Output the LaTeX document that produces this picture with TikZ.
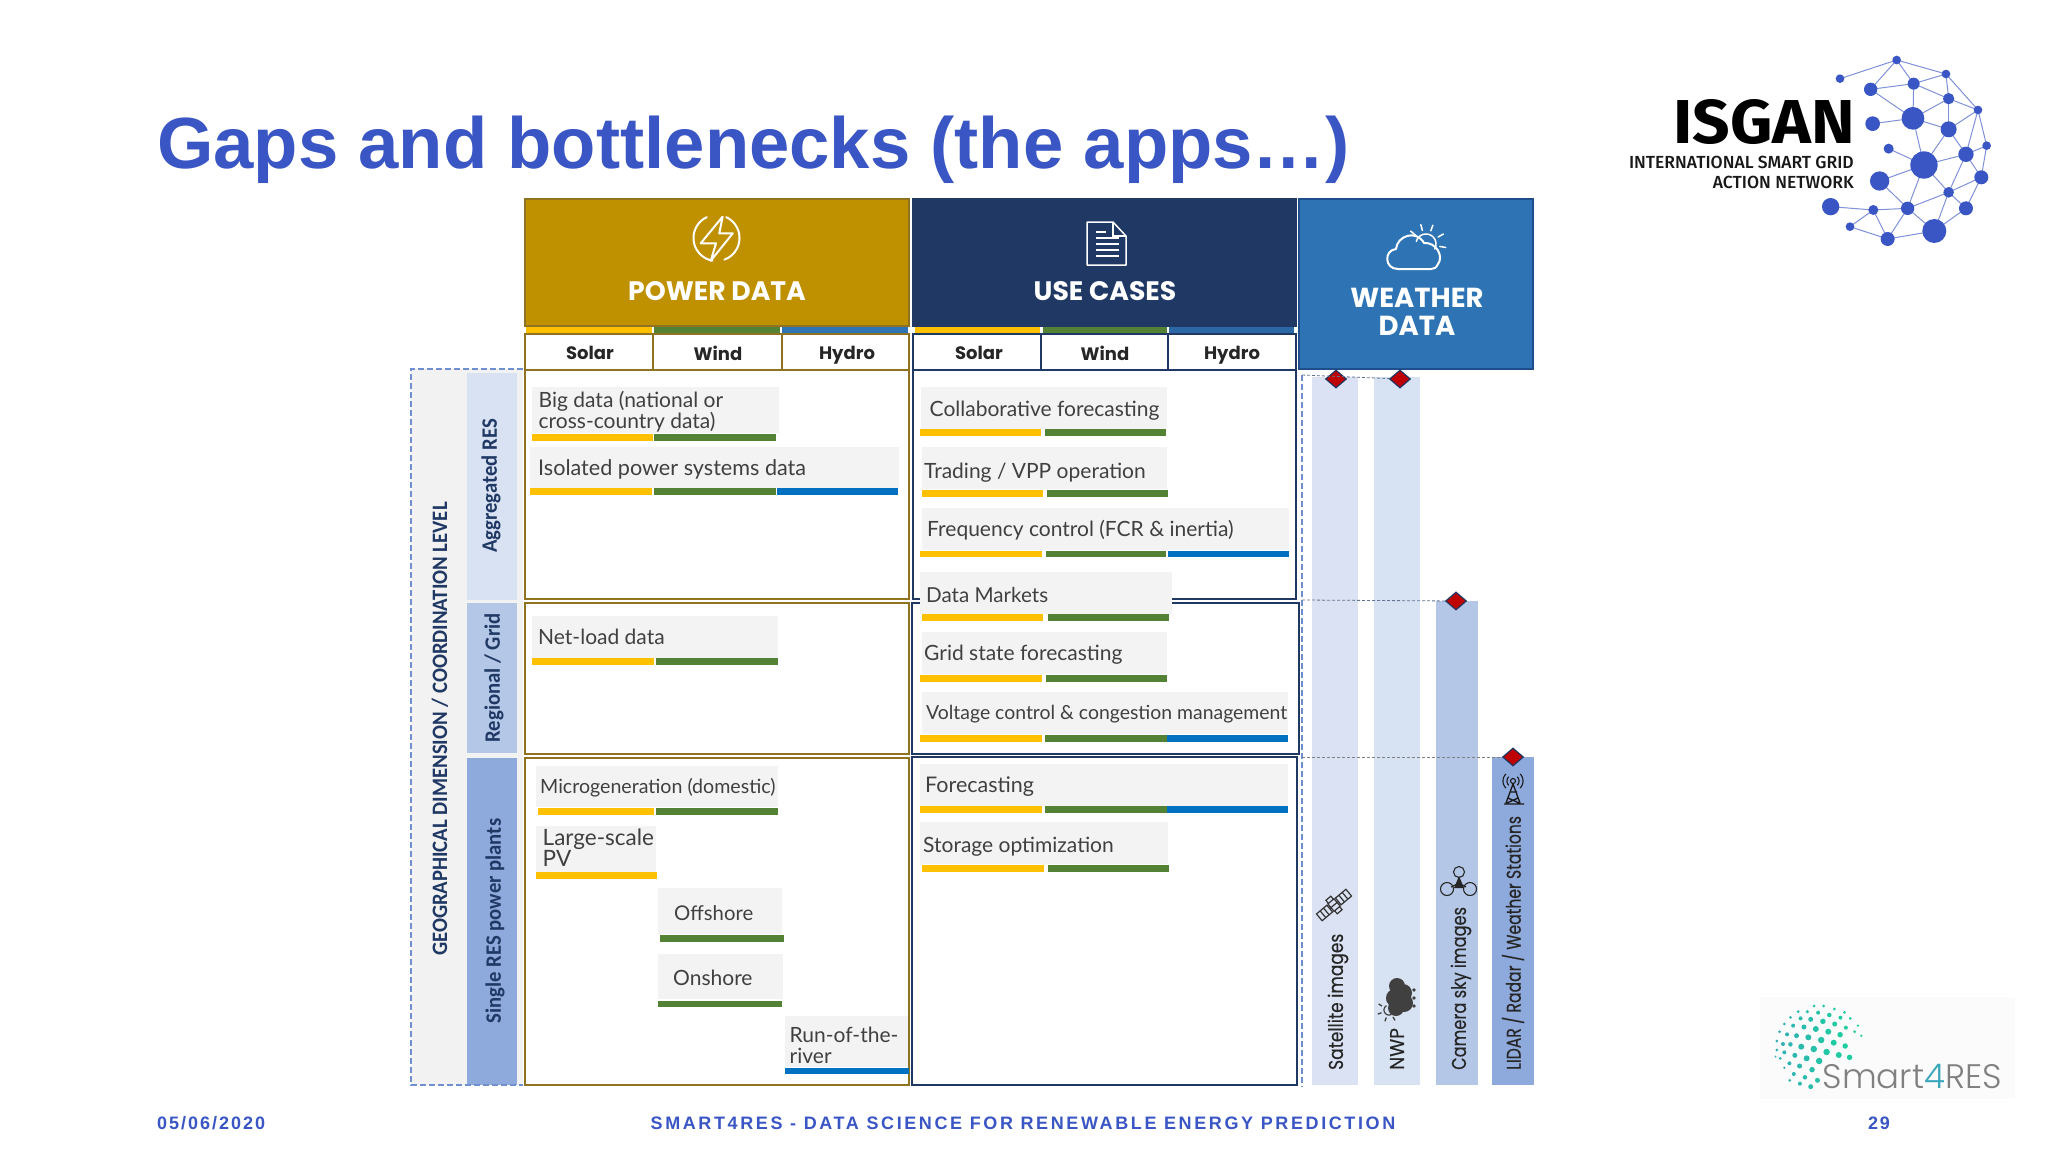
\documentclass[tikz,border=0pt]{standalone}
\usepackage{fontspec}
\usetikzlibrary{shapes.geometric}
\setmainfont{Lato}
\newfontfamily\titlef{Liberation Sans}
\newfontfamily\footf[LetterSpace=11]{Liberation Sans}
\newfontfamily\footg[LetterSpace=14.5]{Liberation Sans}
\newfontfamily\popf{Poppins}
\newfontfamily\popm[FakeBold=0.35]{Poppins}
\newfontfamily\poplt{Poppins Light}
\newfontfamily\carf[FakeStretch=0.94]{Carlito}
\newfontfamily\firaf[FakeStretch=1.06]{Fira Sans}
\newfontfamily\firam{Fira Sans Medium}
\definecolor{accent}{HTML}{3A56C5}
\definecolor{solarc}{HTML}{FFC000}
\definecolor{windc}{HTML}{548235}
\definecolor{hydroc}{HTML}{0070C0}
\definecolor{gold}{HTML}{BF9000}
\definecolor{goldline}{HTML}{8F7320}
\definecolor{navy}{HTML}{1F3864}
\definecolor{wxblue}{HTML}{2E74B5}
\definecolor{wxline}{HTML}{1F4E8C}
\definecolor{graybox}{HTML}{F3F3F4}
\definecolor{textc}{HTML}{404040}
\definecolor{bandA}{HTML}{D9E2F3}
\definecolor{bandB}{HTML}{B4C7E7}
\definecolor{bandC}{HTML}{8EA9DB}
\definecolor{colA}{HTML}{DBE2F3}
\definecolor{colB}{HTML}{D7E3F3}
\definecolor{teala}{HTML}{1ECDA0}
\definecolor{tealb}{HTML}{3AA6BC}
\definecolor{dashc}{HTML}{6F8FD0}
\tikzset{
  gbox/.style={fill=graybox},
  sol/.style={fill=solarc},
  win/.style={fill=windc},
  hyd/.style={fill=hydroc},
  pframe/.style={draw=goldline,line width=1.8pt},
  uframe/.style={draw=navy,line width=1.8pt},
  isz/.style={font=\fontsize{#1}{21}\selectfont},
  itemlabel/.style={anchor=base west,inner sep=0pt,text=textc,isz=21},
  multilabel/.style={anchor=west,inner sep=0pt,align=left,text=textc,isz=21},
  headlabel/.style={inner sep=0pt,text=white,align=center,
     font=\popf\bfseries\fontsize{26.7}{28}\selectfont},
  sublabel/.style={inner sep=0pt,text=black!85,anchor=base,
     font=\popf\bfseries\fontsize{18}{20}\selectfont},
  bandlabel/.style={inner sep=0pt,rotate=90,text=navy,
     font=\carf\bfseries\fontsize{22}{25}\selectfont},
  collabel/.style={inner sep=0pt,rotate=90,anchor=west,text=black!85,
     font=\popm\addfontfeature{FakeStretch=#1}\fontsize{20}{21}\selectfont},
  marker/.style={diamond,draw=navy,fill=red!75!black,line width=1.2pt,
     minimum width=21pt,minimum height=18pt,inner sep=0pt},
  footlabel/.style={inner sep=0pt,text=accent,
     font=\footf\bfseries\fontsize{18}{20}\selectfont},
  footmid/.style={inner sep=0pt,text=accent,
     font=\footg\bfseries\fontsize{18}{20}\selectfont},
  whiteline/.style={draw=white,line width=2pt,line cap=round,line join=round},
  netnode/.style={circle,fill=accent,inner sep=0pt},
  netedge/.style={draw=accent!65,line width=1pt},
  dashedline/.style={draw=dashc,line width=1.5pt,dash pattern=on 6pt off 3pt}
}
\newcommand\circarc[5]{plot[domain=#4:#5,samples=24] ({#1+#3*cos(\x)},{#2+#3*sin(\x)})}
\begin{document}
\begin{tikzpicture}[x=1pt,y=-1pt]
\useasboundingbox (0,0) rectangle (2048,1152);
\fill[white] (0,0) rectangle (2048,1152);

% title
\node[anchor=base west,inner sep=0pt,text=accent,font=\titlef\bfseries\fontsize{72.5}{80}\selectfont]
  (title) at (157,168) {Gaps and bottlenecks (the apps…)};

% left panel
\fill[black!5] (411,369) rectangle (523,1085);
\fill[bandA] (466.5,373) rectangle (517,600);
\fill[bandB] (466.5,603) rectangle (517,753);
\fill[bandC] (466.5,758) rectangle (517,1085);
\draw[dashedline] (523,369) -- (411,369) -- (411,1085) -- (523,1085);
\node[bandlabel] (geo) at (440,729) {GEOGRAPHICAL DIMENSION / COORDINATION LEVEL};
\node[bandlabel] (agg) at (491,486) {Aggregated RES};
\node[bandlabel] (reg) at (494,678) {Regional / Grid};
\node[bandlabel] (sng) at (495,921) {Single RES power plants};

% power data
\fill[gold,draw=goldline,line width=1.5pt] (525,199) rectangle (909,326);
\fill[solarc] (526,327) rectangle (652,333);
\fill[windc] (654,327) rectangle (780,333);
\fill[wxblue] (782,327) rectangle (908,333);
\draw[pframe] (525,334) rectangle (909,370);
\draw[pframe] (653,334) -- (653,370) (782,334) -- (782,370);
\draw[pframe] (525,370) rectangle (909,599);
\draw[pframe] (525,603) rectangle (909,754);
\draw[pframe] (525,758) rectangle (909,1085);
\node[headlabel] (pd) at (717,291) {POWER DATA};
\node[sublabel] (ps) at (590,359) {Solar};
\node[sublabel] (pw) at (718,360) {Wind};
\node[sublabel] (ph) at (847,359) {Hydro};
\draw[whiteline] \circarc{716.5}{238}{23}{-115}{-260};
\draw[whiteline] \circarc{716.5}{238}{23}{70}{-65};
\draw[whiteline,fill=gold] (722.6,216.7) -- (700.7,243.3) -- (716,243.3) -- (710.8,260.7) -- (732.8,233.3) -- (719.3,233.3) -- cycle;

% use cases
\fill[navy,draw=navy,line width=1.5pt] (913,199) rectangle (1296,326);
\fill[solarc] (915,327) rectangle (1040,333);
\fill[windc] (1043,327) rectangle (1166.5,333);
\fill[wxblue!80!navy] (1169,327) rectangle (1294,333);
\draw[uframe] (913,334) rectangle (1296,370);
\draw[uframe] (1041,334) -- (1041,370) (1168,334) -- (1168,370);
\draw[uframe] (913,370) rectangle (1296,599);
\draw[uframe] (912,603) rectangle (1299,754);
\draw[uframe] (912,757) rectangle (1297,1085);
\node[headlabel] (uc) at (1105,291) {USE CASES};
\node[sublabel] (us) at (979,359) {Solar};
\node[sublabel] (uw) at (1105,360) {Wind};
\node[sublabel] (uh) at (1232,359) {Hydro};
\draw[draw=white,line width=1.5pt,line join=round] (1087,222) -- (1113,222) -- (1126,236) -- (1126,265) -- (1087,265) -- cycle;
\draw[draw=white,line width=1.2pt] (1113,222) -- (1113,236) -- (1126,236);
\draw[draw=white,line width=1.2pt] (1096,232) -- (1106,232) (1096,238) -- (1119,238) (1096,244) -- (1119,244) (1096,250) -- (1119,250) (1096,256) -- (1119,256);

% weather
\fill[wxblue,draw=wxline,line width=2pt] (1299,199) rectangle (1533,369);
\node[headlabel,font=\popf\bfseries\fontsize{27.5}{28}\selectfont] (wd) at (1417,312) {WEATHER\\DATA};
\draw[whiteline] (1398,269) .. controls (1384,269) and (1384,250) .. (1396,249) .. controls (1397,236) and (1416,229) .. (1424,243) .. controls (1436,242) and (1444,256) .. (1438,264) .. controls (1436,268) and (1434,269) .. (1431,269) -- cycle;
\draw[whiteline,line width=1.5pt] \circarc{1426}{244}{10}{-165}{30};
\foreach \a in {-140,-105,-70,-30,10} \draw[whiteline,line width=1.5pt] ({1426+14*cos(\a)},{244+14*sin(\a)}) -- ({1426+20*cos(\a)},{244+20*sin(\a)});

% power items
\fill[gbox] (532,387) rectangle (779,433);
\fill[sol] (532,434) rectangle (653,441); \fill[win] (654,434) rectangle (776,441);
\node[multilabel] (t1) at (538.5,411.5) {Big data (national or\\cross-country data)};
\fill[gbox] (530,447) rectangle (899,488);
\fill[sol] (530,488) rectangle (652,495); \fill[win] (654,488) rectangle (776,495); \fill[hyd] (777,488) rectangle (898,495);
\node[itemlabel,isz=21.6] (t2) at (538,475) {Isolated power systems data};
\fill[gbox] (532,616) rectangle (778,658);
\fill[sol] (532,658) rectangle (654,665); \fill[win] (656,658) rectangle (778,665);
\node[itemlabel] (t3) at (538,644.3) {Net-load data};
\fill[gbox] (536,766) rectangle (778,807);
\fill[sol] (537.5,808) rectangle (654,815); \fill[win] (656,808) rectangle (778,815);
\node[itemlabel,isz=19.6] (t4) at (540,793) {Microgeneration (domestic)};
\fill[gbox] (536,826) rectangle (656,872);
\fill[sol] (536,872) rectangle (657,879);
\node[multilabel,isz=22.5] (t5) at (542.5,848) {Large-scale\\PV};
\fill[gbox] (658,888) rectangle (782,934);
\fill[win] (660,935) rectangle (784,942);
\node[itemlabel,isz=20.3] (t6) at (674,920.3) {Offshore};
\fill[gbox] (658,954) rectangle (783,999);
\fill[win] (658,1001) rectangle (782,1007);
\node[itemlabel] (t7) at (673,985.3) {Onshore};
\fill[gbox] (785,1016) rectangle (908,1067);
\fill[hyd] (785,1068) rectangle (909,1074);
\node[multilabel] (t8) at (789.5,1045) {Run-of-the-\\river};

% use-case items
\fill[gbox] (921,387) rectangle (1167,429);
\fill[sol] (920,429) rectangle (1041,436); \fill[win] (1045,429) rectangle (1166,436);
\node[itemlabel] (u1) at (929.5,416) {Collaborative forecasting};
\fill[gbox] (922,447) rectangle (1167,489);
\fill[sol] (922,490) rectangle (1043,497); \fill[win] (1047,490) rectangle (1168,497);
\node[itemlabel] (u2) at (924,478) {Trading / VPP operation};
\fill[gbox] (922,508) rectangle (1289,550);
\fill[sol] (920,551) rectangle (1042,557); \fill[win] (1045.6,551) rectangle (1166,557); \fill[hyd] (1168,551) rectangle (1289,557);
\node[itemlabel] (u3) at (927,536.3) {Frequency control (FCR \& inertia)};
\fill[gbox] (920,572) rectangle (1172,614);
\fill[sol] (922,614) rectangle (1043,621); \fill[win] (1048,614) rectangle (1169,621);
\node[itemlabel,isz=20.6] (u4) at (926,602) {Data Markets};
\fill[gbox] (922,632) rectangle (1167,674);
\fill[sol] (920,675) rectangle (1042,682); \fill[win] (1046,675) rectangle (1167,682);
\node[itemlabel] (u5) at (924,660.3) {Grid state forecasting};
\fill[gbox] (922,692) rectangle (1288,734);
\fill[sol] (920,735) rectangle (1042,742); \fill[win] (1045,735) rectangle (1167,742); \fill[hyd] (1167,735) rectangle (1288,742);
\node[itemlabel,isz=19.4] (u6) at (926,719.5) {Voltage control \& congestion management};
\fill[gbox] (920,764) rectangle (1288,806);
\fill[sol] (920,806) rectangle (1042,813); \fill[win] (1045,806) rectangle (1167,813); \fill[hyd] (1167,806) rectangle (1288,813);
\node[itemlabel,isz=21.5] (u7) at (925,792) {Forecasting};
\fill[gbox] (920,822) rectangle (1168,864);
\fill[sol] (922,865) rectangle (1044,872); \fill[win] (1048,865) rectangle (1169,872);
\node[itemlabel] (u8) at (923,852) {Storage optimization};

% weather columns
\fill[colA] (1312,377) rectangle (1358,1085);
\fill[colB] (1374,377) rectangle (1420,1085);
\fill[bandB] (1436,601) rectangle (1477.5,1085);
\fill[bandC] (1492,757) rectangle (1534,1085);
\coordinate (dtop) at (1302,375);
\coordinate (dbot) at (1302,1087);
\coordinate (dmid) at (1302,600);
\coordinate (dlow) at (1302,757);
\node[marker] (m1) at (1336,379) {};
\node[marker] (m2) at (1400,379) {};
\node[marker] (m3) at (1456,601) {};
\node[marker] (m4) at (1513,757) {};
\draw[dashedline] (dtop) -- (dbot);
\draw[densely dashed,draw=navy!70,line width=.8pt] (dtop) -- (m2);
\draw[densely dashed,draw=navy!70,line width=.8pt] (dmid) -- (m3);
\draw[densely dashed,draw=black!50,line width=.8pt] (dlow) -- (m4);
\node[collabel=.85] (c1) at (1338,1070) {Satellite images};
\node[collabel=.925] (c2) at (1397,1070) {NWP};
\node[collabel=.81] (c3) at (1461,1070) {Camera sky images};
\node[collabel=.78] (c4) at (1513,1070) {LIDAR / Radar / Weather Stations};

% satellite icon
\begin{scope}[shift={(1334,905)},rotate=40,scale=.8,line width=1.2pt,draw=black!80]
 \draw[fill=none] (-24,-5.5) rectangle (-7,5.5) (7,-5.5) rectangle (24,5.5);
 \draw (-18,-5.5) -- (-18,5.5) (-12.5,-5.5) -- (-12.5,5.5) (12.5,-5.5) -- (12.5,5.5) (18,-5.5) -- (18,5.5);
 \draw (-7,0) -- (7,0);
 \draw (-5,-6) rectangle (5,6);
 \draw (-4,-6) -- (-4,-11) -- (4,-11) -- (4,-6);
 \draw (-4,6) -- (-4,11) -- (4,11) -- (4,6);
\end{scope}
% NWP icon
\fill[black!75] (1395,998) circle (9) (1396,1008) circle (8) (1403,993) circle (9) (1404,1003) circle (9) (1397,986) circle (8);
\foreach \py in {990,998,1006}{\fill[black!75] (1414,\py) circle (1.8); \fill[black!75] (1408,\py) circle (1.6);}
\draw[black!75,line width=1.2pt] \circarc{1389}{1010}{5}{60}{240};
\foreach \a in {60,110,160,210,260} \draw[black!75,line width=1.3pt] ({1389+8*cos(\a)},{1010+8*sin(\a)}) -- ({1389+12*cos(\a)},{1010+12*sin(\a)});
% drone icon
\draw[black!85,line width=1.1pt] (1459,872) circle (5.5) (1447,889) circle (6.5) (1470,889) circle (6.5) (1459,877) -- (1459,883) (1451,887) -- (1459,883) -- (1466,887);
\fill[black!85] (1459,876) -- (1454,888) -- (1464,888) -- cycle;
% tower icon
\draw[black!90,line width=1.3pt] (1513,784) -- (1506,803) (1513,784) -- (1520,803) (1504,804) -- (1524,804) (1510,792) -- (1517,792) (1508,798) -- (1519,803) (1518,798) -- (1507,803);
\draw[black!90,line width=1.1pt] (1513,781) circle (2.5);
\draw[black!90,line width=1.1pt] \circarc{1513}{781}{6}{-45}{45} \circarc{1513}{781}{10}{-45}{45} \circarc{1513}{781}{6}{135}{225} \circarc{1513}{781}{10}{135}{225};

% ISGAN logo
\node[anchor=base east,inner sep=0pt,text=black,font=\firaf\bfseries\fontsize{62}{64}\selectfont] (isg) at (1855,143) {ISGAN};
\node[anchor=base east,inner sep=0pt,text=black!90,font=\firam\fontsize{17.5}{20}\selectfont] (isg1) at (1854,168) {INTERNATIONAL SMART GRID};
\node[anchor=base east,inner sep=0pt,text=black!90,font=\firam\fontsize{17.5}{20}\selectfont] (isg2) at (1854,188) {ACTION NETWORK};
\begin{scope}[shift={(1600,30)},x=.3333pt,y=-.3333pt]
\foreach \n/\cx/\cy/\r in {a/890/90/13,b/1038/132/13,c/720/146/13,d/812/178/20,e/941/161/18,f/1046/206/17,g/1134/240/13,h/939/265/34,i/818/281/22,j/1046/298/24,k/1160/347/13,l/866/356/15,m/1098/373/23,n/972/405/41,o/1144/442/21,p/839/453/29,q/1046/487/16,r/692/530/26,s/820/540/15,t/923/535/20,u/1098/535/21,v/750/590/13,w/1003/603/36,x/863/627/21}
  \coordinate (N\n) at (\cx,\cy);
\foreach \p/\q in {c/a,a/b,a/d,a/e,b/e,b/f,b/g,d/e,d/h,e/h,e/f,f/g,f/h,f/j,g/j,g/k,g/m,h/i,h/j,h/n,j/n,j/m,k/m,k/o,l/n,m/n,m/o,m/q,n/p,n/q,n/t,o/q,o/u,p/t,q/t,q/u,q/w,r/s,s/t,s/v,s/x,t/w,t/x,u/w,v/x,x/w}
  \draw[netedge] (N\p) -- (N\q);
\foreach \n/\cx/\cy/\r in {a/890/90/13,b/1038/132/13,c/720/146/13,d/812/178/20,e/941/161/18,f/1046/206/17,g/1134/240/13,h/939/265/34,i/818/281/22,j/1046/298/24,k/1160/347/13,l/866/356/15,m/1098/373/23,n/972/405/41,o/1144/442/21,p/839/453/29,q/1046/487/16,r/692/530/26,s/820/540/15,t/923/535/20,u/1098/535/21,v/750/590/13,w/1003/603/36,x/863/627/21}
  \node[netnode,minimum size=\r*2/3 pt] (P\n) at (N\n) {};
\end{scope}

% Smart4RES logo
\fill[black!1.5] (1760,997) rectangle (2015,1099);
\begin{scope}[shift={(1760,995)},x=.338pt,y=-.3333pt]
\foreach \cx/\cy/\r in {160/33/3,188/33/3,220/42/3,250/52/3,113/50/3,140/50/3.5,172/53/4,205/60/4.5,238/68/4,267/70/3,290/92/2.5,90/67/3,120/70/4,150/73/5,186/79/5.5,221/87/5,254/98/4,280/110/3,300/122/2.5,72/87/3,98/92/4,130/96/5,165/102/6,202/110/6,237/119/5.5,58/110/3,80/118/4,108/122/5,143/127/6,181/135/6.5,218/143/6,252/153/5.5,50/138/3,68/147/4,90/148/4.5,122/155/6,159/162/6.5,197/171/6.5,233/180/6,265/187/5.5,50/165/3,72/172/4,103/181/5,138/190/6,175/198/6.5,46/185/2,60/190/3,87/205/4,117/213/5,154/224/5.5,72/218/2.5,100/237/4,133/247/4.5,170/256/5,88/256/3,118/266/4,150/275/5}{
  \pgfmathtruncatemacro\mixp{min(100,\cx/2.4)}
  \fill[teala!\mixp!tealb] (\cx,\cy) circle[radius=\r/2*1pt];
}
\end{scope}
\node[anchor=base west,inner sep=0pt,text=black!50,font=\poplt\fontsize{34}{36}\selectfont] (sm) at (1822.5,1088) {Smart{\color{tealb}4}RES};

% footer
\node[footlabel,anchor=west] (fd) at (157,1123) {05/06/2020};
\node[footmid] (fm) at (1023,1123) {SMART4RES - DATA SCIENCE FOR RENEWABLE ENERGY PREDICTION};
\node[footlabel] (fn) at (1879,1123) {29};
\end{tikzpicture}
\end{document}
